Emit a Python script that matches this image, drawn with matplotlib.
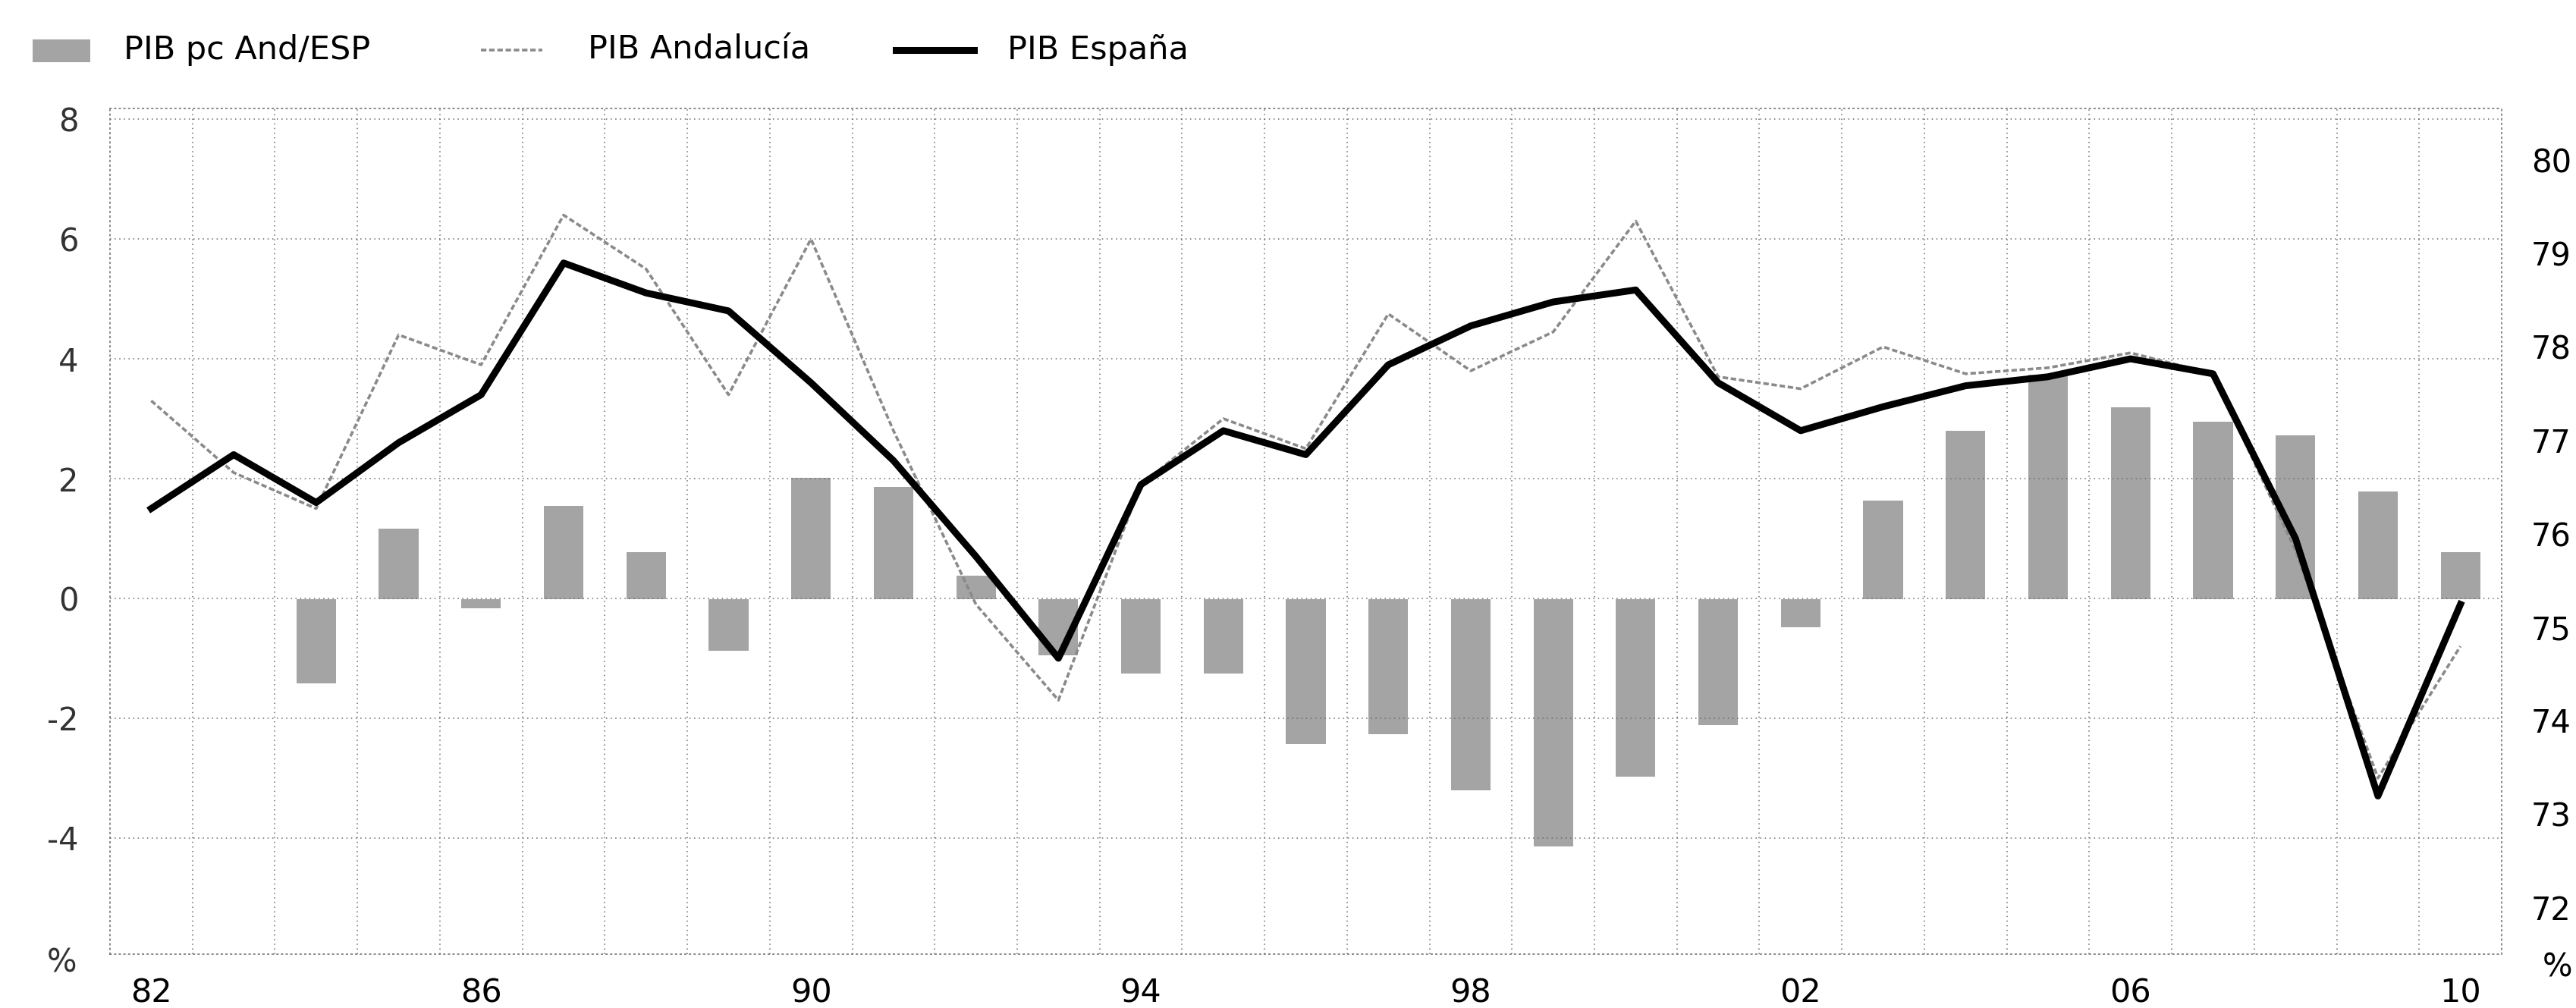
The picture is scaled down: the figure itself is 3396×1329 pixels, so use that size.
import numpy as np
import matplotlib.pyplot as plt
from matplotlib.lines import Line2D
from matplotlib.patches import Rectangle

# Data
years = np.arange(1982, 2011)
pib_espana = [1.5, 2.4, 1.6, 2.6, 3.4, 5.6, 5.1, 4.8, 3.6, 2.3,
              0.7, -1.0, 1.9, 2.8, 2.4, 3.9, 4.55, 4.95, 5.15, 3.6,
              2.8, 3.2, 3.55, 3.7, 4.0, 3.75, 1.0, -3.3, -0.1]
pib_andalucia = [3.3, 2.1, 1.5, 4.4, 3.9, 6.4, 5.5, 3.4, 6.0, 2.8,
                 -0.1, -1.7, 1.9, 3.0, 2.5, 4.75, 3.8, 4.45, 6.3, 3.7,
                 3.5, 4.2, 3.75, 3.85, 4.1, 3.75, 0.8, -3.0, -0.8]
pib_pc_and_esp = [np.nan, np.nan, 74.4, 76.05, 75.2, 76.3, 75.8, 74.75, 76.6, 76.5,
                  75.55, 74.7, 74.5, 74.5, 73.75, 73.85, 73.25, 72.65, 73.4, 73.95,
                  75.0, 76.35, 77.1, 77.7, 77.35, 77.2, 77.05, 76.45, 75.8]

xtick_years = [1982, 1986, 1990, 1994, 1998, 2002, 2006, 2010]
xtick_labels = ['82', '86', '90', '94', '98', '02', '06', '10']
left_ticks = [8, 6, 4, 2, 0, -2, -4]
right_ticks = [80, 79, 78, 77, 76, 75, 74, 73, 72]
legend_labels = ['PIB pc And/ESP', 'PIB Andalucía', 'PIB España']

BASE = 75.3  # ratio level drawn at the 0 line of the left axis
W, H = 3396, 1329

plt.rcParams['font.family'] = ['DejaVu Sans']
fig = plt.figure(figsize=(W / 100, H / 100), dpi=100)
ax = fig.add_axes([145 / W, 1 - 1258 / H, (3298 - 145) / W, (1258 - 143) / H])
ax2 = ax.twinx()
ax.set_zorder(ax2.get_zorder() + 1)
ax.patch.set_visible(False)

# bars on the right axis
ratio = np.array(pib_pc_and_esp)
ax2.bar(years, ratio - BASE, bottom=BASE, width=0.48, color='#a4a4a4', linewidth=0)

# lines on the left axis
ax.plot(years, pib_andalucia, color='#8a8a8a', lw=2.6, ls=(0, (2, 1)))
ax.plot(years, pib_espana, color='black', lw=6.5, solid_joinstyle='round')

ax.set_xlim(1981.5, 2010.5)
ax.set_ylim(-5.94, 8.18)
ax2.set_ylim(71.5, 80.55)

ax.set_xticks(xtick_years, xtick_labels)
ax.set_xticks(np.arange(1982.5, 2010, 1), minor=True)
ax.set_yticks(left_ticks, [str(v) for v in left_ticks])
ax2.set_yticks(right_ticks, [str(v) for v in right_ticks])

ax.tick_params(axis='x', which='both', length=0, pad=22, labelsize=31)
ax.tick_params(axis='y', length=0, pad=30, labelsize=30, labelcolor='#333333')
ax2.tick_params(axis='y', length=0, pad=28, labelsize=30)

grid_kw = dict(color='#6a6a6a', lw=1.1, ls=(0, (1, 3)))
ax.grid(which='minor', axis='x', **grid_kw)
ax.grid(which='major', axis='y', **grid_kw)
ax.grid(which='major', axis='x', visible=False)

for s in ax.spines.values():
    s.set_linestyle((0, (1, 3)))
    s.set_color('#6a6a6a')
    s.set_linewidth(1.1)
for s in ax2.spines.values():
    s.set_visible(False)

fig.text(81 / W, 1 - 1270 / H, '%', ha='center', va='center', fontsize=30, color='#333333')
fig.text(3371 / W, 1 - 1275 / H, '%', ha='center', va='center', fontsize=30)

# legend drawn by hand along the top
ly = 1 - 66 / H
fig.patches.append(Rectangle((43 / W, 1 - 82 / H), 76 / W, 30 / H,
                             transform=fig.transFigure, facecolor='#a4a4a4', lw=0))
fig.text(163 / W, ly, legend_labels[0], va='center', fontsize=31)
fig.lines.append(Line2D([634 / W, 715 / W], [ly, ly], transform=fig.transFigure,
                        color='#8a8a8a', lw=2.6, ls=(0, (2, 1))))
fig.text(775 / W, ly, legend_labels[1], va='center', fontsize=31)
fig.lines.append(Line2D([1181 / W, 1284 / W], [ly, ly], transform=fig.transFigure,
                        color='black', lw=6.5))
fig.text(1328 / W, ly, legend_labels[2], va='center', fontsize=31)

fig.savefig('out.png', dpi=100)
